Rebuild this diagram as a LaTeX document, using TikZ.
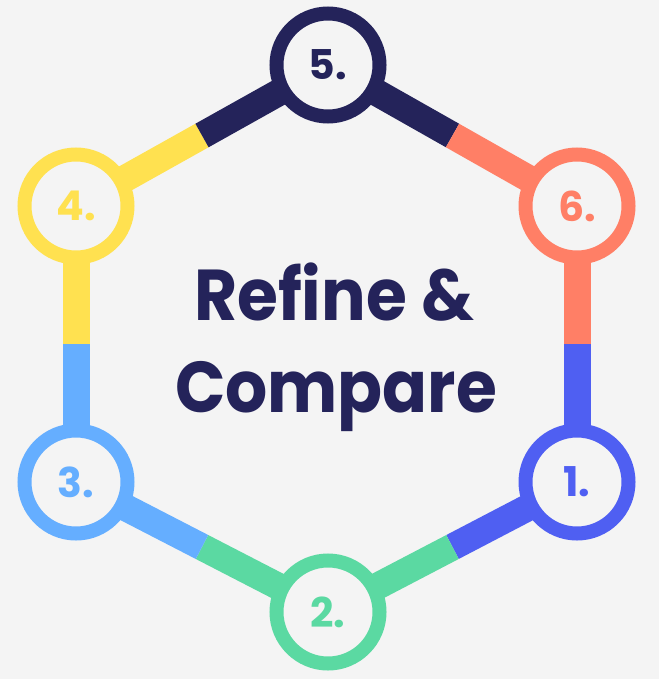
\documentclass[tikz,border=0pt]{standalone}
\usepackage{fontspec}
\setmainfont{Poppins}
\usetikzlibrary{calc}
\definecolor{bgcol}{HTML}{F4F4F4}
\definecolor{navy}{HTML}{24235A}
\definecolor{salmon}{HTML}{FF7F66}
\definecolor{royal}{HTML}{4F5FF2}
\definecolor{mint}{HTML}{5BD9A2}
\definecolor{sky}{HTML}{65AEFF}
\definecolor{sun}{HTML}{FFE150}
\pgfdeclarelayer{back}
\pgfdeclarelayer{links}
\pgfsetlayers{back,links,main}
\tikzset{
  stage/.style={circle, line width=14pt, fill=bgcol, minimum size=103pt, inner sep=0pt,
    font=\fontsize{41}{41}\selectfont\bfseries},
  link/.style={line width=27pt, line cap=butt},
  title/.style={anchor=base, text=navy, xscale=0.92, transform shape,
    font=\fontsize{72}{72}\selectfont\bfseries}
}

\begin{document}
\begin{tikzpicture}[x=1pt, y=-1pt]
    \begin{pgfonlayer}{back}
      \fill[bgcol] (0,0) rectangle (659,679);
    \end{pgfonlayer}
    \useasboundingbox (0,0) rectangle (659,679);
    % nodes
    \node (s1) [stage, draw=royal, text=royal]   at (577,482) {1.};
    \node (s2) [stage, draw=mint, text=mint]     at (328,612) {2.};
    \node (s3) [stage, draw=sky, text=sky]       at (76,482)  {3.};
    \node (s4) [stage, draw=sun, text=sun]       at (76,206)  {4.};
    \node (s5) [stage, draw=navy, text=navy]     at (328,65)  {5.};
    \node (s6) [stage, draw=salmon, text=salmon] at (577,206) {6.};
    \node (head) [title] at (334,320) {Refine \&};
    \node (tail) [title] at (336,412) {Compare};
    % links, each half in the colour of its own stage
    \begin{pgfonlayer}{links}
      \coordinate (m12) at ($(s1)!0.5!(s2)$);
      \coordinate (m23) at ($(s2)!0.5!(s3)$);
      \coordinate (m34) at ($(s3)!0.5!(s4)$);
      \coordinate (m45) at ($(s4)!0.5!(s5)$);
      \coordinate (m56) at ($(s5)!0.5!(s6)$);
      \coordinate (m61) at ($(s6)!0.5!(s1)$);
      \draw[link, royal]  (s1.center) -- (m12);
      \draw[link, royal]  (s1.center) -- (m61);
      \draw[link, mint]   (s2.center) -- (m12);
      \draw[link, mint]   (s2.center) -- (m23);
      \draw[link, sky]    (s3.center) -- (m23);
      \draw[link, sky]    (s3.center) -- (m34);
      \draw[link, sun]    (s4.center) -- (m34);
      \draw[link, sun]    (s4.center) -- (m45);
      \draw[link, navy]   (s5.center) -- (m45);
      \draw[link, navy]   (s5.center) -- (m56);
      \draw[link, salmon] (s6.center) -- (m56);
      \draw[link, salmon] (s6.center) -- (m61);
    \end{pgfonlayer}
\end{tikzpicture}
\end{document}
